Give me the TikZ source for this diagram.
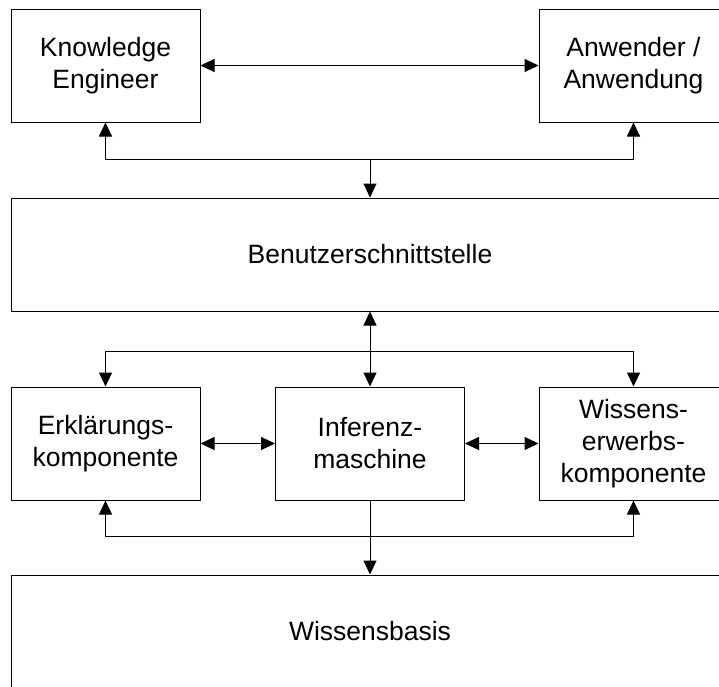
\documentclass[tikz,border=0pt]{standalone}
\usepackage{fontspec}
\setmainfont{Liberation Sans}
\usetikzlibrary{arrows.meta}

\tikzset{
  block/.style={draw, line width=1pt, minimum width=189pt, minimum height=113pt,
                inner sep=0pt, align=center, font=\fontsize{26.5}{32}\selectfont},
  wideblock/.style={block, minimum width=718pt},
  link/.style={line width=1pt, -{Triangle[length=14pt,width=13pt]}},
  duallink/.style={line width=1pt, {Triangle[length=14pt,width=13pt]}-{Triangle[length=14pt,width=13pt]}}
}

\begin{document}
\begin{tikzpicture}[x=1pt, y=-1pt]
  \clip (0,0) rectangle (719,686);
  \fill[white] (0,0) rectangle (719,686);

  % top row
  \node[block] (ke) at (105.5,65.5) {Knowledge\\Engineer};
  \node[block] (aw) at (633.5,65.5) {Anwender /\\Anwendung};

  % user interface
  \node[wideblock] (ui) at (370,254.5) {Benutzerschnittstelle};

  % components
  \node[block] (ek) at (105.5,443.5) {Erklärungs-\\komponente};
  \node[block] (im) at (370,443.5) {Inferenz-\\maschine};
  \node[block] (we) at (633.5,443.5) {Wissens-\\erwerbs-\\komponente};

  % knowledge base
  \node[wideblock] (kb) at (370,631.5) {Wissensbasis};

  % bus junctions
  \coordinate (topbus) at (370,159);
  \coordinate (midbus) at (370,351);
  \coordinate (lowbus) at (370,536);

  % top connections
  \draw[duallink] (ke.east) -- (aw.west);
  \draw[link] (topbus) -- (ui.north);
  \draw[link] (topbus) -| (ke.south);
  \draw[link] (topbus) -| (aw.south);

  % interface to components
  \draw[duallink] (ui.south) -- (im.north);
  \draw[link] (midbus) -| (ek.north);
  \draw[link] (midbus) -| (we.north);

  % component links
  \draw[duallink] (ek.east) -- (im.west);
  \draw[duallink] (im.east) -- (we.west);

  % to knowledge base and back
  \draw[link] (im.south) -- (kb.north);
  \draw[link] (lowbus) -| (ek.south);
  \draw[link] (lowbus) -| (we.south);
\end{tikzpicture}
\end{document}
